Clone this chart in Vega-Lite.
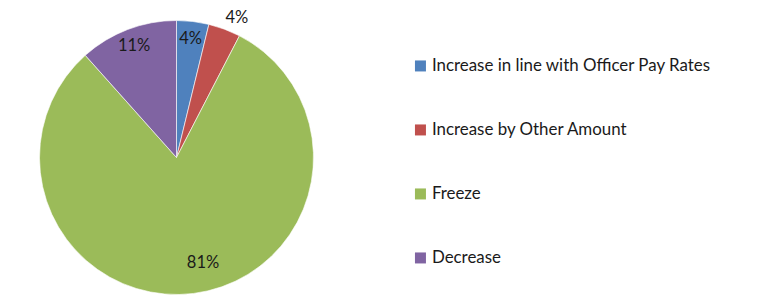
{
  "$schema": "https://vega.github.io/schema/vega-lite/v6.json",
  "autosize": "none",
  "width": 353,
  "height": 295,
  "padding": {"left": 0, "top": 10, "right": 411, "bottom": 0},
  "background": "white",
  "config": {"view": {"stroke": null}, "font": "Lato"},
  "data": {
    "values": [
      {"category": "Increase in line with Officer Pay Rates", "share": 3.8, "label": "4%", "order": 1},
      {"category": "Increase by Other Amount", "share": 3.8, "label": "4%", "order": 2},
      {"category": "Freeze", "share": 80.8, "label": "81%", "order": 3},
      {"category": "Decrease", "share": 11.6, "label": "11%", "order": 4}
    ]
  },
  "encoding": {
    "theta": {"field": "share", "type": "quantitative", "stack": true},
    "order": {"field": "order", "type": "quantitative"},
    "color": {
      "field": "category",
      "type": "nominal",
      "scale": {
        "domain": ["Increase in line with Officer Pay Rates", "Increase by Other Amount", "Freeze", "Decrease"],
        "range": ["#4F81BD", "#C0504D", "#9BBB59", "#8064A2"]
      },
      "legend": {
        "orient": "none",
        "legendX": 412,
        "legendY": 47.5,
        "title": null,
        "symbolType": "square",
        "symbolSize": 121,
        "symbolStrokeWidth": 0,
        "labelFontSize": 16.9,
        "labelFont": "Lato",
        "labelColor": "#1a1a1a",
        "labelOffset": 3,
        "labelLimit": 400,
        "rowPadding": 46,
        "padding": 0
      }
    }
  },
  "layer": [
    {"mark": {"type": "arc", "outerRadius": 137, "stroke": "white", "strokeWidth": 0.6}},
    {
      "mark": {"type": "text", "radius": 119, "fontSize": 16.5, "color": "#1a1a1a"},
      "encoding": {
        "text": {"condition": {"test": "datum.order == 1 || datum.order == 4", "field": "label"}, "value": ""},
        "color": {"value": "#1a1a1a"}
      }
    },
    {
      "mark": {"type": "text", "radius": 152, "thetaOffset": 0.05, "fontSize": 16.5, "color": "#1a1a1a"},
      "encoding": {
        "text": {"condition": {"test": "datum.order == 2", "field": "label"}, "value": ""},
        "color": {"value": "#1a1a1a"}
      }
    },
    {
      "mark": {"type": "text", "radius": 109, "thetaOffset": -0.12, "fontSize": 16.5, "color": "#1a1a1a"},
      "encoding": {
        "text": {"condition": {"test": "datum.order == 3", "field": "label"}, "value": ""},
        "color": {"value": "#1a1a1a"}
      }
    }
  ]
}
